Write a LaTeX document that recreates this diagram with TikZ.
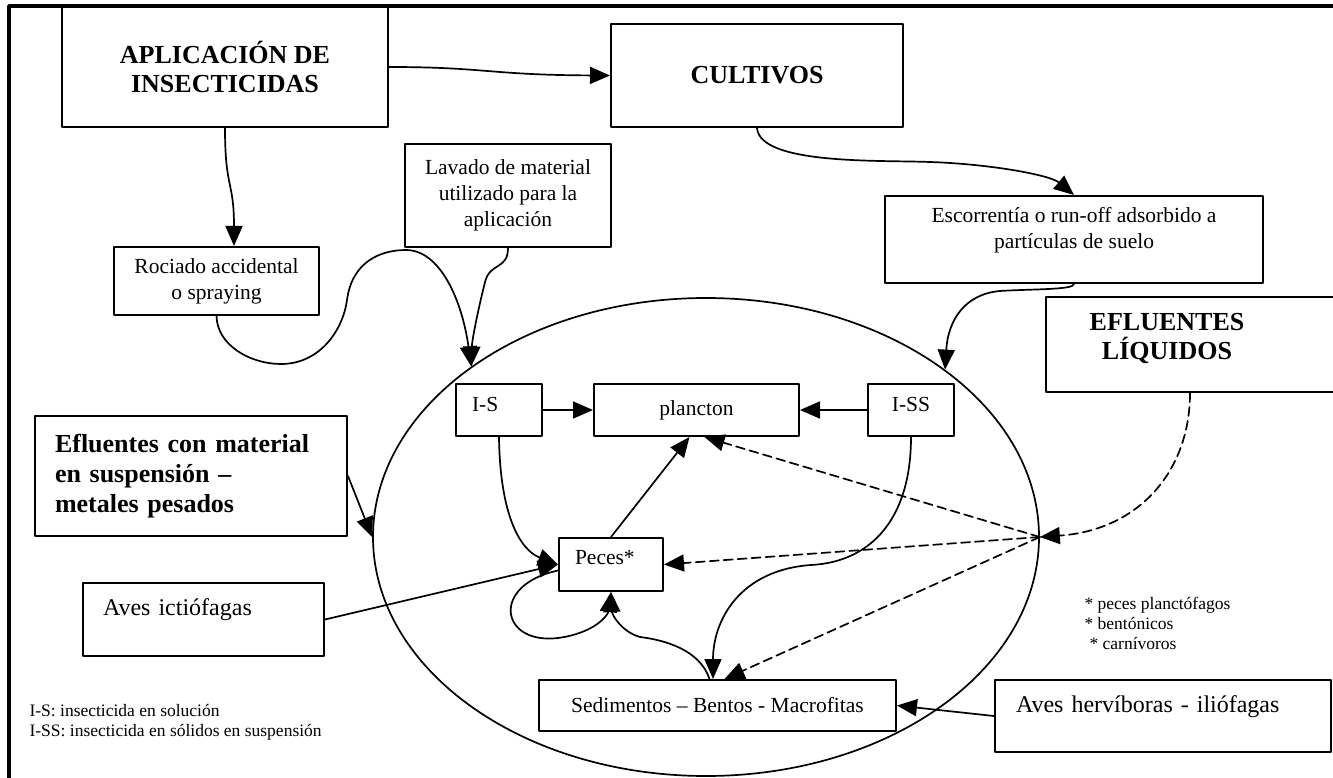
\documentclass[tikz,border=0pt]{standalone}
\usepackage{fontspec}
\setmainfont{Liberation Serif}
\usetikzlibrary{arrows.meta,shapes.geometric}
\def\boxWidth{2pt}
\def\lineWidth{1.7pt}
\newcommand{\padBottom}[1]{\rule[-#1]{0pt}{#1}}

\begin{document}
\begin{tikzpicture}[x=1pt, y=-1pt, line cap=round, line join=round,
	box/.style={draw, line width=\boxWidth, inner sep=0pt, align=center},
	arrowLine/.style={line width=\lineWidth, -{Triangle[length=20pt,width=17pt]}},
	dashArrow/.style={arrowLine, dash pattern=on 9pt off 5pt},
	headFont/.style={font=\fontsize{26}{29}\selectfont\bfseries},
	bodyFont/.style={font=\fontsize{21.5}{26}\selectfont},
	birdFont/.style={font=\fontsize{24}{28}\selectfont},
	noteFont/.style={font=\fontsize{17.5}{20}\selectfont}]
	\useasboundingbox (0,0) rectangle (1333,778);
	\draw[line width=3.4pt] (9,790) -- (9,6) -- (1345,6);

	\node[box, headFont, minimum width=326pt, minimum height=120pt] (aplicacion) at (225,67) {APLICACIÓN DE\\INSECTICIDAS};
	\node[box, headFont, minimum width=292pt, minimum height=103pt] (cultivos) at (757,75.5) {CULTIVOS};
	\node[box, bodyFont, minimum width=206pt, minimum height=103pt] (lavado) at (508,195.5) {Lavado de material\\utilizado para la\\aplicación};
	\node[box, bodyFont, minimum width=205pt, minimum height=68pt] (rociado) at (216.5,281) {Rociado accidental\\o spraying};
	\node[box, bodyFont, minimum width=378pt, minimum height=87pt] (escorrentia) at (1074,239.5) {Escorrentía o run-off adsorbido a\\partículas de suelo\padBottom{24pt}};
	\node[box, minimum width=299pt, minimum height=95pt] (efluLiq) at (1195.5,344.5) {};
	\node[headFont, align=center] (efluLiqText) at (1167,338) {EFLUENTES\\LÍQUIDOS};
	\node[box, font=\fontsize{26}{30}\selectfont\bfseries, minimum width=312pt, minimum height=120pt, text width=272pt, align=left] (efluMetales) at (191,476) {Efluentes con material\\en suspensión –\\metales pesados};
	\node[box, birdFont, minimum width=241pt, minimum height=73pt, text width=201pt, align=left] (avesIctio) at (203.5,619.5) {Aves ictiófagas\padBottom{25pt}};
	\node[box, birdFont, minimum width=336pt, minimum height=72pt, text width=294pt, align=left] (avesHerb) at (1163,716) {Aves hervíboras - iliófagas\padBottom{23pt}};

	\node[draw, ellipse, line width=\lineWidth, minimum width=666pt, minimum height=478pt, inner sep=0pt] (lago) at (706,537) {};
	\node[box, bodyFont, minimum width=86pt, minimum height=52pt, text width=54pt, align=left] (iS) at (499,410) {I-S\padBottom{11pt}};
	\node[box, bodyFont, minimum width=205pt, minimum height=52pt] (plancton) at (696.5,410) {plancton};
	\node[box, bodyFont, minimum width=86pt, minimum height=52pt] (iSS) at (911,410) {I-SS\padBottom{11pt}};
	\node[box, bodyFont, minimum width=104pt, minimum height=53pt, text width=72pt, align=left] (peces) at (611,564.5) {Peces*\padBottom{14pt}};
	\node[box, bodyFont, minimum width=357pt, minimum height=51pt] (sedimentos) at (717.5,705.5) {Sedimentos – Bentos - Macrofitas};

	\node[noteFont, anchor=west, align=left] (legendI) at (26,722) {I-S: insecticida en solución\\I-SS: insecticida en sólidos en suspensión};
	\node[noteFont, anchor=west, align=left] (legendPeces) at (1081,623) {* peces planctófagos\\* bentónicos\\\hspace{5pt}* carnívoros};

	\draw[arrowLine] (aplicacion.south) .. controls (225,190) and (234,180) .. ([xshift=17.5pt]rociado.north);
	\draw[arrowLine] (aplicacion.east) .. controls (485,67) and (490,75) .. (cultivos.west);
	\draw[arrowLine] (cultivos.south) .. controls (760,165) and (880,160) .. (930,162) .. controls (990,164) and (1050,175) .. (escorrentia.north);
	\draw[arrowLine] (escorrentia.south) .. controls (1074,290) and (1030,289) .. (1000,291) .. controls (965,294) and (948,320) .. (lago.35);
	\draw[arrowLine] (lavado.south) .. controls (508,270) and (490,262) .. (485,282) .. controls (478,310) and (472,340) .. (lago.144.5);
	\draw[arrowLine] (rociado.south) .. controls (217,345) and (250,364) .. (281,364) .. controls (320,364) and (343,330) .. (347,300) .. controls (352,262) and (380,250) .. (406,250) .. controls (440,250) and (462,300) .. (lago.144.5);
	\draw[dashArrow] ([xshift=-5.5pt]efluLiq.south) .. controls (1190,470) and (1140,530) .. (lago.east);
	\draw[arrowLine] (efluMetales.east) -- (lago.west);
	\draw[arrowLine] (avesIctio.east) -- (peces.west);
	\draw[arrowLine] (avesHerb.west) -- (sedimentos.east);

	\draw[arrowLine] (iS.east) -- (plancton.west);
	\draw[arrowLine] (iSS.west) -- (plancton.east);
	\draw[arrowLine] (peces.north) -- ([xshift=-7pt]plancton.south);
	\draw[arrowLine] (iS.south) .. controls (500,515) and (520,550) .. (peces.west);
	\draw[arrowLine] (iSS.south) .. controls (911,520) and (870,562) .. (811,565) .. controls (740,570) and (713,620) .. ([xshift=-4.5pt]sedimentos.north);
	\draw[arrowLine] ([xshift=-8pt]sedimentos.north) .. controls (700,650) and (665,640) .. (640,637) .. controls (622,632) and (612,615) .. (peces.south);
	\draw[arrowLine] ([yshift=-6pt]peces.west) .. controls (490,585) and (500,645) .. (558,638) .. controls (595,633) and (608,615) .. (peces.south);
	\draw[dashArrow] (lago.east) -- ([xshift=8pt]plancton.south);
	\draw[dashArrow] (lago.east) -- (peces.east);
	\draw[dashArrow] (lago.east) -- ([xshift=7pt]sedimentos.north);
\end{tikzpicture}
\end{document}
